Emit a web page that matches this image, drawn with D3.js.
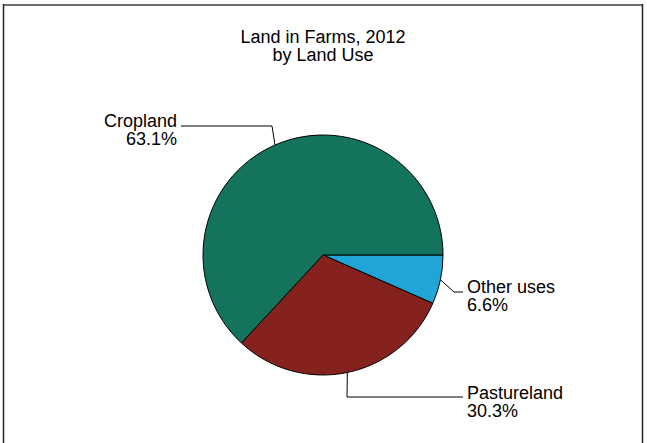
<!DOCTYPE html>
<html>
<head>
<meta charset="utf-8">
<script src="https://cdn.jsdelivr.net/npm/d3@7"></script>
<style>
  html, body { margin: 0; padding: 0; background: #fff; }
  text { font-family: "Liberation Sans", Arial, sans-serif; fill: #000; }
</style>
</head>
<body>
<div id="chart"></div>
<script>
const canvas_w  =   647;
const canvas_h  =   443;

// data, in drawing order (clockwise from 3 o'clock)
const categories  =   [ 'Other uses', 'Pastureland', 'Cropland' ];
const shares      =   [ 6.6, 30.3, 63.1 ];
const colours     =   [ '#21a5d6', '#86221e', '#13735c' ];
const titleLines  =   [ 'Land in Farms, 2012', 'by Land Use' ];

const cx = 323, cy = 255, radius = 120;
const fontSize = '18px', lineGap = 18;

// label placement: elbow point, line end, text anchor
const labelPos = {
    'Other uses'  : { elbow: [ 454, 292 ], end: [ 463, 292 ], tx: 467, ty: 293, anchor: 'start' },
    'Pastureland' : { elbow: [ 347, 397 ], end: [ 463, 397 ], tx: 467, ty: 399, anchor: 'start' },
    'Cropland'    : { elbow: [ 272, 126 ], end: [ 181, 126 ], tx: 177, ty: 127, anchor: 'end' }
};

let svg = d3.select( '#chart' )
            .append( 'svg' )
            .attr( 'width', canvas_w )
            .attr( 'height', canvas_h );

// frame
svg.append( 'line' ).attr( 'x1', 3 ).attr( 'x2', 643 ).attr( 'y1', 5 ).attr( 'y2', 5 )
   .attr( 'stroke', '#6e6e6e' ).attr( 'stroke-width', 2 );
svg.append( 'line' ).attr( 'x1', 3.5 ).attr( 'x2', 3.5 ).attr( 'y1', 4 ).attr( 'y2', canvas_h )
   .attr( 'stroke', '#222' ).attr( 'stroke-width', 1.5 );
svg.append( 'line' ).attr( 'x1', 642.5 ).attr( 'x2', 642.5 ).attr( 'y1', 4 ).attr( 'y2', canvas_h )
   .attr( 'stroke', '#222' ).attr( 'stroke-width', 1.5 );

// title
svg.append( 'text' )
   .attr( 'x', cx )
   .attr( 'text-anchor', 'middle' )
   .attr( 'font-size', fontSize )
   .selectAll( 'tspan' )
   .data( titleLines )
   .enter()
   .append( 'tspan' )
   .attr( 'x', cx )
   .attr( 'y', ( d, i ) => 43 + i * lineGap )
   .text( d => d );

let rows = categories.map( ( c, i ) => ( { name: c, value: shares[ i ], colour: colours[ i ] } ) );

let pie = d3.pie()
            .sort( null )
            .value( d => d.value )
            .startAngle( Math.PI / 2 )
            .endAngle( Math.PI / 2 + 2 * Math.PI );

let arc = d3.arc()
            .innerRadius( 0 )
            .outerRadius( radius );

let arcs = pie( rows );

let g = svg.append( 'g' )
           .attr( 'transform', 'translate(' + cx + ',' + cy + ')' );

g.selectAll( 'path' )
 .data( arcs )
 .enter()
 .append( 'path' )
 .attr( 'd', arc )
 .attr( 'fill', d => d.data.colour )
 .attr( 'stroke', '#000' )
 .attr( 'stroke-width', 1 );

// leader lines and labels
arcs.forEach( function ( a ) {
    let mid = ( a.startAngle + a.endAngle ) / 2;
    let p0  = [ cx + radius * Math.sin( mid ), cy - radius * Math.cos( mid ) ];
    let lp  = labelPos[ a.data.name ];

    svg.append( 'polyline' )
       .attr( 'points', [ p0, lp.elbow, lp.end ].map( p => p.join( ',' ) ).join( ' ' ) )
       .attr( 'fill', 'none' )
       .attr( 'stroke', '#000' )
       .attr( 'stroke-width', 1 );

    let t = svg.append( 'text' )
               .attr( 'text-anchor', lp.anchor )
               .attr( 'font-size', fontSize );
    t.append( 'tspan' ).attr( 'x', lp.tx ).attr( 'y', lp.ty ).text( a.data.name );
    t.append( 'tspan' ).attr( 'x', lp.tx ).attr( 'y', lp.ty + lineGap ).text( a.data.value.toFixed( 1 ) + '%' );
});
</script>
</body>
</html>
